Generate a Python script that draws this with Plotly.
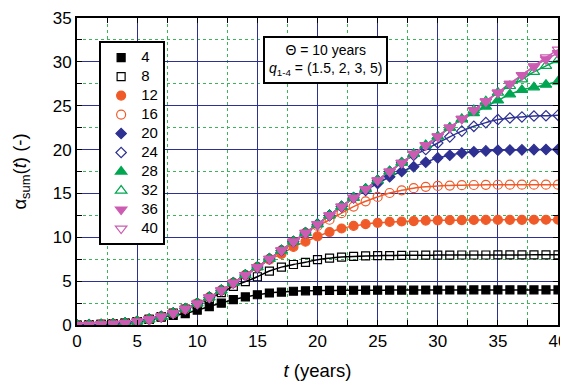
import plotly.graph_objects as go

t = list(range(0, 41))

base = [0, 0.02, 0.06, 0.12, 0.22, 0.4, 0.65, 0.95, 1.35, 1.85, 2.45, 3.15, 3.95, 4.8, 5.7, 6.6,
        7.55, 8.5, 9.5, 10.5, 11.5, 12.5, 13.5, 14.5, 15.5, 16.5, 17.5, 18.5, 19.5, 20.5, 21.5,
        22.5, 23.5, 24.5, 25.5, 26.5, 27.5, 28.5, 29.5, 30.5, 31.4]

s4 = [0, 0.02, 0.06, 0.12, 0.22, 0.4, 0.65, 0.9, 1.1, 1.3, 1.7, 2.1, 2.5, 2.9, 3.2, 3.45,
      3.65, 3.75, 3.85, 3.9, 3.92, 3.94, 3.95, 3.96, 3.97, 3.97, 3.98, 3.98, 3.98, 3.99, 3.99,
      3.99, 3.99, 4.0, 4.0, 4.0, 4.0, 4.0, 4.0, 4.0, 4.0]
s8 = [0, 0.02, 0.06, 0.12, 0.22, 0.4, 0.65, 0.95, 1.35, 1.8, 2.35, 3.0, 3.7, 4.4, 4.95, 5.5,
      6.15, 6.6, 6.9, 7.15, 7.45, 7.62, 7.74, 7.82, 7.87, 7.9, 7.92, 7.94, 7.95, 7.96, 7.97,
      7.97, 7.98, 7.98, 7.98, 7.99, 7.99, 7.99, 8.0, 8.0, 8.0]
s12 = base[:16] + [7.45, 8.1, 8.9, 9.5, 10.1, 10.6, 11.0, 11.3, 11.5, 11.65, 11.75, 11.8, 11.85,
                   11.9, 11.93, 11.95, 11.96, 11.97, 11.98, 11.98, 11.99, 11.99, 12.0, 12.0, 12.0]
s16 = base[:20] + [11.3, 12.0, 12.75, 13.5, 14.1, 14.6, 15.05, 15.35, 15.6, 15.75, 15.85, 15.9,
                   15.94, 15.96, 15.98, 15.99, 16.0, 16.0, 16.0, 16.0, 16.0]
s20 = base[:24] + [15.35, 16.15, 16.9, 17.5, 18.05, 18.55, 19.05, 19.35, 19.6, 19.75, 19.85,
                   19.92, 19.95, 19.97, 19.99, 20.0, 20.0]
s24 = base[:28] + [19.35, 20.0, 20.75, 21.45, 22.1, 22.65, 23.07, 23.42, 23.6, 23.72, 23.82,
                   23.86, 23.92]
s28 = base[:32] + [23.45, 24.15, 24.9, 25.6, 26.3, 26.8, 27.1, 27.4, 27.75]
s32 = base[:36] + [27.25, 28.0, 28.85, 29.55, 30.2]
s36 = base[:38] + [29.45, 30.3, 31.0]
s40 = base[:]

series_names = ["4", "8", "12", "16", "20", "24", "28", "32", "36", "40"]
series_vals = [s4, s8, s12, s16, s20, s24, s28, s32, s36, s40]

BLACK = "#000000"
ORANGE = "#F05A28"
BLUE = "#2E3192"
GREEN = "#00A651"
GRIDGREEN = "#3DB35C"
PINK = "#CC5CB2"
colors = [BLACK, BLACK, ORANGE, ORANGE, BLUE, BLUE, GREEN, GREEN, PINK, PINK]
symbols = ["square", "square-open", "circle", "circle-open", "diamond", "diamond-open",
           "triangle-up", "triangle-up-open", "triangle-down", "triangle-down-open"]
sizes = [8, 8, 9, 9, 8, 8, 10, 10, 10, 10]

fig = go.Figure()

for name, vals, c in zip(series_names, series_vals, colors):
    fig.add_trace(go.Scatter(x=t, y=vals, mode="lines", line=dict(color=c, width=1.5, shape="spline"),
                             showlegend=False, hoverinfo="skip"))

for name, vals, c, sym, sz in zip(series_names, series_vals, colors, symbols, sizes):
    fig.add_trace(go.Scatter(x=t, y=vals, mode="markers",
                             name='<span style="font-size:15px">' + name + '</span>',
                             marker=dict(color=c, symbol=sym, size=sz,
                                         line=dict(color=c, width=1.2))))

# page body adds an 8px margin, so the figure is 8px smaller and margins shifted
fig.update_layout(
    width=560, height=375,
    margin=dict(l=69, r=10, t=10, b=58),
    paper_bgcolor="white", plot_bgcolor="white",
    font=dict(family="Liberation Sans, Arial", size=17, color="black"),
    legend=dict(x=0.046, y=0.925, xanchor="left", yanchor="top",
                bordercolor="black", borderwidth=2, bgcolor="white",
                font=dict(size=11), itemwidth=30),
    xaxis=dict(range=[0, 40], dtick=5, showgrid=True, gridcolor=BLUE, gridwidth=1,
               showline=True, linecolor="black", linewidth=2, mirror="ticks",
               ticks="inside", ticklen=5, tickcolor="black", zeroline=False, automargin=False,
               minor=dict(dtick=2.5, showgrid=True, gridcolor=GRIDGREEN, griddash="dot", gridwidth=1,
                          ticks="inside", ticklen=5, tickcolor="black"),
               title=dict(text="<i>t</i> (years)", font=dict(size=18.5), standoff=14)),
    yaxis=dict(range=[0, 35], dtick=5, showgrid=True, gridcolor=BLUE, gridwidth=1,
               showline=True, linecolor="black", linewidth=2, mirror="ticks",
               ticks="inside", ticklen=5, tickcolor="black", zeroline=False, automargin=False,
               minor=dict(dtick=2.5, showgrid=True, gridcolor=GRIDGREEN, griddash="dot", gridwidth=1,
                          ticks="inside", ticklen=5, tickcolor="black"),
               title=dict(text="α<sub>sum</sub>(<i>t</i>) (-)", font=dict(size=18.5), standoff=21)),
    annotations=[dict(x=0.516, y=0.862, xref="paper", yref="paper", showarrow=False,
                      xanchor="center", yanchor="middle",
                      text="Θ = 10 years<br><i>q</i><sub>1-4</sub> = (1.5, 2, 3, 5)",
                      font=dict(size=14), bordercolor="black", borderwidth=2,
                      bgcolor="white", borderpad=4, align="center")],
)

fig.write_html("out.html")
